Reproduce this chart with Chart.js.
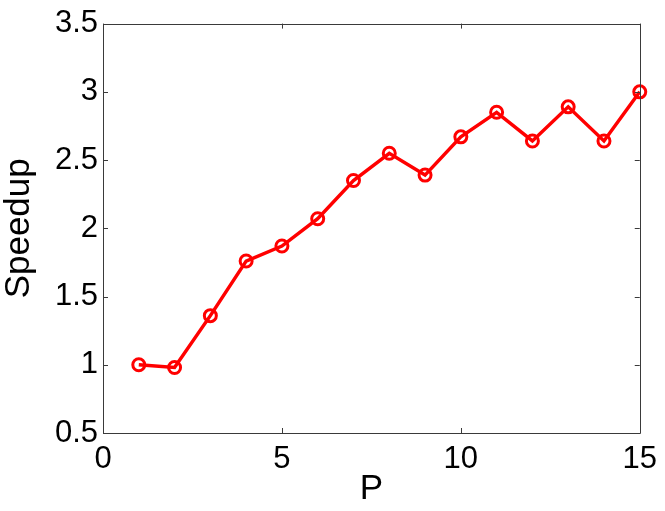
<!DOCTYPE html>
<html>
<head>
<meta charset="utf-8">
<script src="https://cdn.jsdelivr.net/npm/chart.js@4"></script>
<style>
  html, body { margin: 0; padding: 0; background: #fff; }
  #wrap { width: 665px; height: 511px; }
</style>
</head>
<body>
<div id="wrap"><canvas id="speedChart" width="665" height="511"></canvas></div>
<script>
const procs = [1, 2, 3, 4, 5, 6, 7, 8, 9, 10, 11, 12, 13, 14, 15]
const speedup = [1.0, 0.98, 1.36, 1.76, 1.87, 2.07, 2.35, 2.55, 2.39, 2.67, 2.85, 2.64, 2.89, 2.64, 3.0]
const xTicks = [0, 5, 10, 15]
const yTicks = [0.5, 1, 1.5, 2, 2.5, 3, 3.5]

const FONT = '"Liberation Sans", Arial, Helvetica, sans-serif'
const AXIS_COLOR = '#3a3a3a'

// matlab style box with inward tick marks on all four sides
const boxPlugin = {
    id: 'box',
    afterDraw(chart) {
        const ctx = chart.ctx
        const a = chart.chartArea
        const xs = chart.scales.x
        const ys = chart.scales.y
        const len = 5
        ctx.save()
        ctx.strokeStyle = AXIS_COLOR
        ctx.lineWidth = 1
        ctx.beginPath()
        ctx.rect(Math.round(a.left) + 0.5, Math.round(a.top) + 0.5, Math.round(a.right - a.left), Math.round(a.bottom - a.top))
        xTicks.forEach(function(v) {
            const px = Math.round(xs.getPixelForValue(v)) + 0.5
            ctx.moveTo(px, a.bottom); ctx.lineTo(px, a.bottom - len)
            ctx.moveTo(px, a.top); ctx.lineTo(px, a.top + len)
        })
        yTicks.forEach(function(v) {
            const py = Math.round(ys.getPixelForValue(v)) + 0.5
            ctx.moveTo(a.left, py); ctx.lineTo(a.left + len, py)
            ctx.moveTo(a.right, py); ctx.lineTo(a.right - len, py)
        })
        ctx.stroke()
        ctx.restore()
    }
}

const ctx = document.getElementById('speedChart').getContext('2d')
const speedChart = new Chart(ctx, {
    type: 'line',
    data: {
        datasets: [{
            data: procs.map(function(p, i) { return {x: p, y: speedup[i]} }),
            borderColor: '#ff0000',
            borderWidth: 3.5,
            pointStyle: 'circle',
            pointRadius: 6,
            pointBorderWidth: 3,
            pointBorderColor: '#ff0000',
            pointBackgroundColor: 'rgba(0,0,0,0)',
            tension: 0,
            clip: false
        }]
    },
    options: {
        responsive: false,
        animation: false,
        devicePixelRatio: 1,
        layout: { padding: { left: 0, right: 22, top: 20, bottom: 0 } },
        plugins: {
            legend: { display: false },
            tooltip: { enabled: false }
        },
        scales: {
            x: {
                type: 'linear',
                min: 0,
                max: 15,
                afterBuildTicks: function(s) { s.ticks = xTicks.map(function(v) { return {value: v} }) },
                afterFit: function(s) { s.height = 78 },
                grid: { display: false, drawTicks: false },
                border: { display: false },
                ticks: {
                    padding: 8,
                    color: '#000',
                    maxRotation: 0,
                    autoSkip: false,
                    callback: function(v) { return String(v) },
                    font: { family: FONT, size: 31 }
                },
                title: {
                    display: true,
                    text: 'P',
                    color: '#000',
                    padding: { top: 0, bottom: 0 },
                    font: { family: FONT, size: 35, lineHeight: 1.22 }
                }
            },
            y: {
                type: 'linear',
                min: 0.5,
                max: 3.5,
                afterBuildTicks: function(s) { s.ticks = yTicks.map(function(v) { return {value: v} }) },
                afterFit: function(s) { s.width = 103 },
                grid: { display: false, drawTicks: false },
                border: { display: false },
                ticks: {
                    padding: 5,
                    color: '#000',
                    autoSkip: false,
                    callback: function(v) { return String(v) },
                    font: { family: FONT, size: 31 }
                },
                title: {
                    display: true,
                    text: 'Speedup',
                    color: '#000',
                    padding: { top: 0, bottom: 0 },
                    font: { family: FONT, size: 35, lineHeight: 1.1 }
                }
            }
        }
    },
    plugins: [boxPlugin]
});
</script>
</body>
</html>
